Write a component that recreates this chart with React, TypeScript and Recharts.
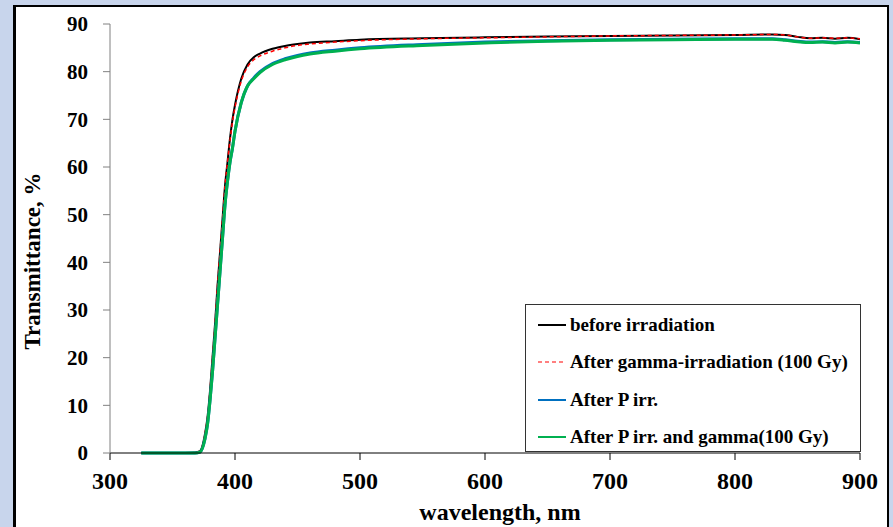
import React from "react";
import { LineChart, Line, XAxis, YAxis, Legend } from "recharts";

const SERIF = "'Liberation Serif', 'Times New Roman', serif";
const PAGE_BG = "#c8d5ec";

// wavelength, nm
const wavelength = [
  325, 340, 360, 368, 372, 376, 378, 380, 382, 384, 386, 388, 390, 392, 394, 396, 398, 400, 405, 410, 415, 420,
  430, 440, 450, 460, 480, 500, 550, 600, 650, 700, 750, 800, 830, 840, 850, 860, 870, 880, 890, 900,
];

const beforeIrr = [
  0, 0, 0, 0.1, 0.4, 4, 7.5, 13, 20, 27, 35, 42, 49, 56, 61, 66, 70, 73, 78.5, 81.5, 83, 83.8,
  84.8, 85.4, 85.8, 86.1, 86.4, 86.7, 87.0, 87.2, 87.4, 87.5, 87.6, 87.7, 87.8, 87.7, 87.3, 87.0, 87.1, 86.9, 87.1, 86.8,
];

const afterGamma = [
  0, 0, 0, 0.1, 0.4, 4, 7.5, 13, 20, 27, 35, 42, 49, 56, 61, 65.5, 69.5, 72.5, 78, 81, 82.5, 83.3,
  84.3, 85.0, 85.5, 85.8, 86.2, 86.5, 86.9, 87.1, 87.3, 87.5, 87.6, 87.7, 87.8, 87.7, 87.3, 87.0, 87.1, 87.0, 87.1, 86.9,
];

const afterP = [
  0, 0, 0, 0, 0.2, 3, 6, 11, 17, 24, 31, 38, 45, 52, 57, 61, 64, 67.5, 73.5, 77, 78.7, 80,
  81.7, 82.7, 83.4, 83.9, 84.5, 85.0, 85.7, 86.2, 86.5, 86.7, 86.8, 86.9, 86.9, 86.7, 86.4, 86.2, 86.3, 86.1, 86.3, 86.1,
];

const afterPGamma = [
  0, 0, 0, 0, 0.2, 3, 6, 11, 17, 24, 31, 38, 45, 52, 57, 61, 64, 67.5, 73.5, 77, 78.5, 79.8,
  81.5, 82.5, 83.2, 83.7, 84.3, 84.8, 85.5, 86.0, 86.4, 86.6, 86.7, 86.8, 86.8, 86.6, 86.3, 86.1, 86.2, 86.0, 86.2, 86.0,
];

const xTicks = [300, 400, 500, 600, 700, 800, 900];
const yTicks = [0, 10, 20, 30, 40, 50, 60, 70, 80, 90];

const SERIES = [
  { key: "before", name: "before irradiation", color: "#000000", width: 2, dash: undefined },
  { key: "gamma", name: "After gamma-irradiation (100 Gy)", color: "#ff0000", width: 1.5, dash: "4 3" },
  { key: "p", name: "After P irr.", color: "#0070c0", width: 3, dash: undefined },
  { key: "pgamma", name: "After P irr. and gamma(100 Gy)", color: "#00b050", width: 3, dash: undefined },
];

const data = wavelength.map((wl, i) => ({
  wl,
  before: beforeIrr[i],
  gamma: afterGamma[i],
  p: afterP[i],
  pgamma: afterPGamma[i],
}));

const xTickStyle = { fill: "#000", fontSize: 24, fontWeight: "bold", fontFamily: SERIF };
const yTickStyle = { fill: "#000", fontSize: 21, fontWeight: "bold", fontFamily: SERIF };

const LegendBox = () => (
  <div
    style={{
      width: 336,
      height: 148,
      boxSizing: "border-box",
      border: "1.5px solid #333",
      background: "#fff",
      paddingTop: 1,
    }}
  >
    {SERIES.map((s) => (
      <div key={s.key} style={{ display: "flex", alignItems: "center", height: 37.5 }}>
        <svg width={40} height={10} style={{ marginLeft: 10 }}>
          <line x1={2} y1={5} x2={30} y2={5} stroke={s.color} strokeWidth={s.key === "gamma" ? 1.2 : 2} strokeDasharray={s.dash} />
        </svg>
        <span style={{ fontFamily: SERIF, fontWeight: "bold", fontSize: 19, color: "#000", marginLeft: -6, whiteSpace: "nowrap" }}>{s.name}</span>
      </div>
    ))}
  </div>
);

export default function App() {
  return (
    <div style={{ position: "absolute", left: 0, top: 0, width: 893, height: 527, background: PAGE_BG, overflow: "hidden" }}>
      <div
        style={{
          position: "absolute",
          left: 13,
          top: 5,
          width: 871,
          height: 540,
          background: "#fff",
          borderTop: "2px solid #000",
          borderLeft: "3px solid #000",
          borderRight: "2px solid #000",
        }}
      />
      <div style={{ position: "absolute", left: 0, top: 0 }}>
        <LineChart width={893} height={527} data={data} margin={{ top: 24, right: 33, left: 50, bottom: 44 }}>
          <XAxis
            dataKey="wl"
            type="number"
            domain={[300, 900]}
            ticks={xTicks}
            allowDataOverflow
            height={30}
            tickSize={7}
            tickMargin={12}
            stroke="#000"
            tick={xTickStyle}
          />
          <XAxis xAxisId="top" orientation="top" dataKey="wl" type="number" domain={[300, 900]} height={0} tick={false} tickLine={false} stroke="#000" />
          <YAxis
            type="number"
            domain={[0, 90]}
            ticks={yTicks}
            width={60}
            tickSize={7}
            tickMargin={15}
            stroke="#808080"
            tick={yTickStyle}
          />
          <YAxis yAxisId="right" orientation="right" domain={[0, 90]} width={0} tick={false} tickLine={false} stroke="#000" />
          <Legend
            layout="horizontal"
            align="center"
            verticalAlign="middle"
            wrapperStyle={{ position: "absolute", left: 525, top: 304, width: 336, height: 148 }}
            content={() => <LegendBox />}
          />
          {SERIES.map((s) => (
            <Line
              key={s.key}
              type="monotone"
              dataKey={s.key}
              name={s.name}
              stroke={s.color}
              strokeWidth={s.width}
              strokeDasharray={s.dash}
              dot={false}
              isAnimationActive={false}
            />
          ))}
        </LineChart>
      </div>
      <div
        style={{
          position: "absolute",
          left: 33,
          top: 261,
          transform: "translate(-50%, -50%) rotate(-90deg)",
          whiteSpace: "nowrap",
          fontFamily: SERIF,
          fontWeight: "bold",
          fontSize: 23,
          color: "#000",
        }}
      >
        Transmittance, %
      </div>
      <div
        style={{
          position: "absolute",
          left: 500,
          top: 512,
          transform: "translate(-50%, -50%)",
          whiteSpace: "nowrap",
          fontFamily: SERIF,
          fontWeight: "bold",
          fontSize: 24,
          color: "#000",
        }}
      >
        wavelength, nm
      </div>
    </div>
  );
}
